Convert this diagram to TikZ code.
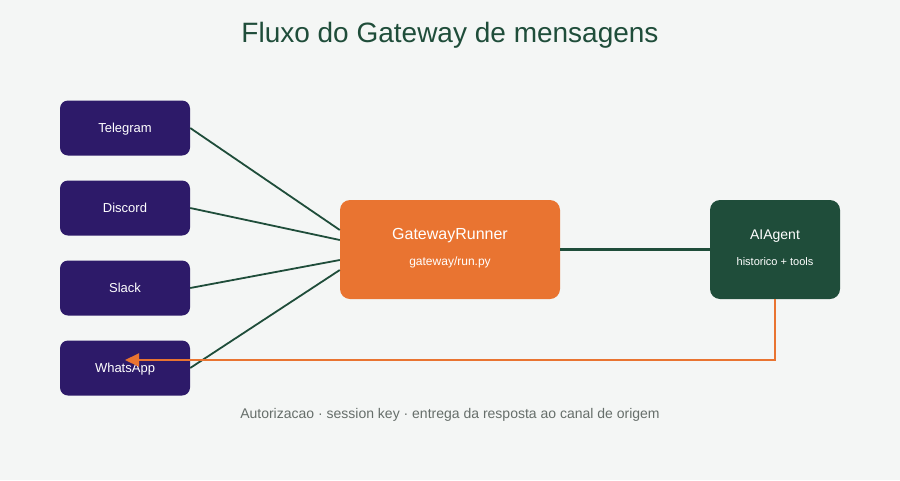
\documentclass[tikz,border=0pt]{standalone}
\usepackage{fontspec}
\setmainfont{Liberation Sans}
\usetikzlibrary{arrows.meta}
\definecolor{bg}{HTML}{F4F6F5}
\definecolor{chan}{HTML}{2D1A69}
\definecolor{orng}{HTML}{E97431}
\definecolor{dgreen}{HTML}{1F4D3A}
\definecolor{foot}{HTML}{666E6A}
\begin{document}
\begin{tikzpicture}[x=1pt,y=-1pt,
  chanbox/.style={fill=chan,rounded corners=8pt,minimum width=130pt,minimum height=55pt,text=white,font=\fontsize{13}{15}\selectfont,inner sep=0pt,text height=9.5pt,text depth=-4pt},
  bigbox/.style={rounded corners=10pt,minimum height=99pt,inner sep=0pt},
  link/.style={draw=dgreen,line width=1.8pt},
  ret/.style={draw=orng,line width=2pt,-{Triangle[length=14pt,width=13pt]}}]
\fill[bg] (0,0) rectangle (900,480);
\useasboundingbox (0,0) rectangle (900,480);
\node[text=dgreen,font=\fontsize{28}{32}\selectfont] (title) at (450,35) {Fluxo do Gateway de mensagens};
\node[chanbox] (tg) at (125,128) {Telegram};
\node[chanbox] (dc) at (125,208) {Discord};
\node[chanbox] (sl) at (125,288) {Slack};
\node[chanbox] (wa) at (125,368) {WhatsApp};
\node[bigbox,fill=orng,minimum width=220pt] (gw) at (450,249.5) {};
\node[text=white,font=\fontsize{16}{18}\selectfont] (gwt) at (450,236) {GatewayRunner};
\node[text=white,font=\fontsize{12}{14}\selectfont] (gws) at (450,262) {gateway/run.py};
\node[bigbox,fill=dgreen,minimum width=130pt] (ag) at (775,249.5) {};
\node[text=white,font=\fontsize{14}{16}\selectfont] (agt) at (775,236) {AIAgent};
\node[text=white,font=\fontsize{11}{13}\selectfont] (ags) at (775,262) {historico + tools};
\draw[link] (tg.east) -- ([yshift=19.5pt]gw.west);
\draw[link] (dc.east) -- ([yshift=9.5pt]gw.west);
\draw[link] (sl.east) -- ([yshift=-10.5pt]gw.west);
\draw[link] (wa.east) -- ([yshift=-20.5pt]gw.west);
\draw[draw=dgreen,line width=3pt] (gw.east) -- (ag.west);
\coordinate (tip) at (125,360);
\draw[ret] (ag.south) |- (tip);
\node[text=foot,font=\fontsize{14}{16}\selectfont] (note) at (450,415) {Autorizacao · session key · entrega da resposta ao canal de origem};
\end{tikzpicture}
\end{document}
